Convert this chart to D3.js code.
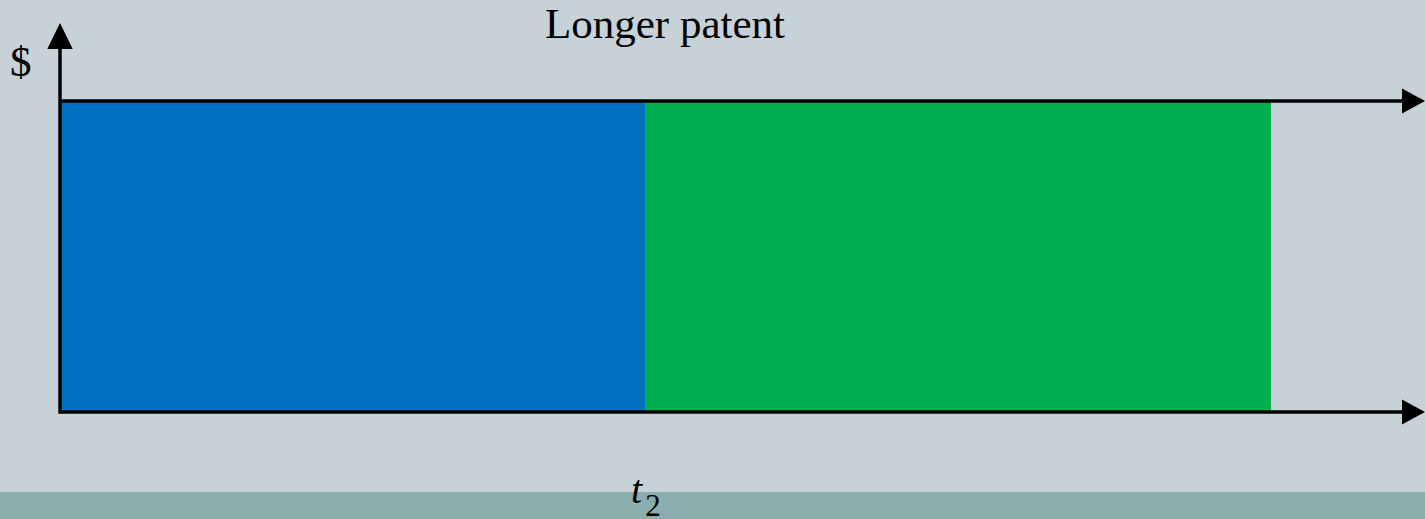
<!DOCTYPE html>
<html>
<head>
<meta charset="utf-8">
<script src="https://cdn.jsdelivr.net/npm/d3@7"></script>
<style>
  html, body { margin: 0; padding: 0; background: #C6D2D8; }
  svg { display: block; }
</style>
</head>
<body>
<svg id="chart" width="1425" height="519"></svg>
<script>
// Periods of profit over time: patent-protected period, then the extension
const periods = ["patent", "extension"];
const periodStart = [0, 42.86];
const periodEnd = [42.86, 88.72];
const profitLevel = [1, 1];
const periodColors = ["#0070C0", "#00B050"];

const titleText = "Longer patent";
const yLabel = "$";
const tickLabel = "t";
const tickSub = "2";

const W = 1425, H = 519;
const svg = d3.select("#chart");
const serif = "'Liberation Serif', 'Times New Roman', Times, serif";

// Background and footer band
svg.append("rect").attr("x", 0).attr("y", 0).attr("width", W).attr("height", H).attr("fill", "#C6D2D8");
svg.append("rect").attr("x", 0).attr("y", 492).attr("width", W).attr("height", H - 492).attr("fill", "#8BADAD");

const x = d3.scaleLinear().domain([0, 100]).range([60, 1425]);
const y = d3.scaleLinear().domain([0, 1]).range([412, 101]);

// Profit blocks
svg.selectAll("rect.period")
  .data(periods)
  .join("rect")
  .attr("class", "period")
  .attr("x", (d, i) => x(periodStart[i]))
  .attr("y", (d, i) => y(profitLevel[i]))
  .attr("width", (d, i) => x(periodEnd[i]) - x(periodStart[i]))
  .attr("height", (d, i) => y(0) - y(profitLevel[i]))
  .attr("fill", (d, i) => periodColors[i]);

// Arrowheads
function arrowRight(yy) {
  const tip = x(100), base = tip - 23, hh = 12.5;
  svg.append("path").attr("d", `M${tip},${yy} L${base},${yy - hh} L${base},${yy + hh} Z`).attr("fill", "#000");
}
function arrowUp(xx, tipY) {
  const base = tipY + 26, hw = 12.7;
  svg.append("path").attr("d", `M${xx},${tipY} L${xx - hw},${base} L${xx + hw},${base} Z`).attr("fill", "#000");
}

// Horizontal lines: price level and time axis
[y(1), y(0)].forEach(yy => {
  svg.append("line")
    .attr("x1", x(0)).attr("x2", x(100) - 20)
    .attr("y1", yy).attr("y2", yy)
    .attr("stroke", "#000").attr("stroke-width", 3.5);
  arrowRight(yy);
});

// Vertical axis
svg.append("line")
  .attr("x1", x(0)).attr("x2", x(0))
  .attr("y1", y(0) + 1.75).attr("y2", 45)
  .attr("stroke", "#000").attr("stroke-width", 3.5);
arrowUp(x(0), 23);

// Title
svg.append("text")
  .attr("x", 665).attr("y", 38)
  .attr("text-anchor", "middle")
  .attr("font-family", serif)
  .attr("font-size", 43)
  .attr("fill", "#000")
  .text(titleText);

// Y label
svg.append("text")
  .attr("x", 10).attr("y", 76)
  .attr("font-family", serif)
  .attr("font-size", 43)
  .attr("fill", "#000")
  .text(yLabel);

// Time label t2
const t = svg.append("text")
  .attr("x", 631).attr("y", 503)
  .attr("font-family", serif)
  .attr("fill", "#000");
t.append("tspan").attr("font-style", "italic").attr("font-size", 40).text(tickLabel);
t.append("tspan").attr("font-size", 31).attr("dx", 3).attr("dy", 13).text(tickSub);
</script>
</body>
</html>
